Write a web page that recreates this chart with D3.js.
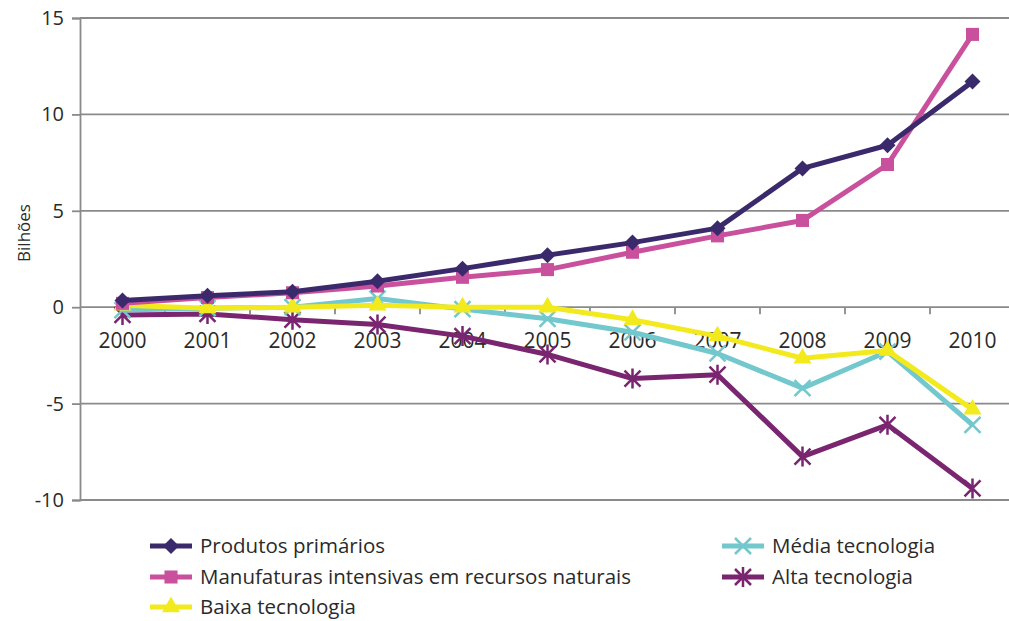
<!DOCTYPE html>
<html><head><meta charset="utf-8">
<script src="https://cdn.jsdelivr.net/npm/d3@7"></script>
<style>
html,body{margin:0;padding:0;background:#fff;}
text{font-family:"Open Sans","DejaVu Sans",sans-serif;fill:#2a2a2a;}
</style></head>
<body>
<svg id="chart" width="1009" height="621"></svg>
<script>
const years = ["2000","2001","2002","2003","2004","2005","2006","2007","2008","2009","2010"];
const yTicks = [-10,-5,0,5,10,15];
const seriesNames = ["Produtos primários","Manufaturas intensivas em recursos naturais","Baixa tecnologia","Média tecnologia","Alta tecnologia"];
const seriesColors = ["#3b2a6b","#c8509c","#f2ea1c","#72c8cc","#7a2570"];
const seriesMarkers = ["diamond","square","triangle","x","star"];
const produtosPrimarios = [0.35,0.6,0.8,1.35,2.0,2.7,3.35,4.1,7.2,8.4,11.7];
const manufaturas = [0.2,0.5,0.75,1.1,1.55,1.95,2.85,3.7,4.5,7.4,14.15];
const baixaTec = [0.1,-0.05,0.0,0.1,0.0,0.0,-0.65,-1.5,-2.65,-2.25,-5.3];
const mediaTec = [-0.15,-0.05,0.0,0.45,-0.1,-0.6,-1.3,-2.4,-4.2,-2.3,-6.1];
const altaTec = [-0.4,-0.35,-0.65,-0.9,-1.5,-2.45,-3.7,-3.5,-7.75,-6.1,-9.4];
const seriesValues = [produtosPrimarios,manufaturas,baixaTec,mediaTec,altaTec];

(function(){
const svg = d3.select("#chart");
const mLeft = 80, mRight = 1015, mTop = 18, mBottom = 500;
const x = d3.scaleBand().domain(years).range([mLeft,mRight]);
const y = d3.scaleLinear().domain([-10,15]).range([mBottom,mTop]);

// gridlines
svg.append("g").selectAll("line").data(yTicks).join("line")
  .attr("x1",mLeft).attr("x2",1009).attr("y1",d=>y(d)).attr("y2",d=>y(d))
  .attr("stroke","#8a8a8a").attr("stroke-width",1.8);

// y axis
const yAxis = svg.append("g").attr("transform",`translate(${mLeft},0)`)
  .call(d3.axisLeft(y).tickValues(yTicks).tickSize(8).tickPadding(8).tickFormat(d=>String(d)));
yAxis.select(".domain").attr("stroke","#8a8a8a").attr("stroke-width",1.8);
yAxis.selectAll(".tick line").attr("stroke","#8a8a8a").attr("stroke-width",1.8);
yAxis.selectAll(".tick text").attr("font-size",20).style("font-family","'Open Sans','DejaVu Sans',sans-serif").attr("fill","#2a2a2a");

// x axis on zero line: ticks at band boundaries
const boundaries = years.slice(1).map(yr => x(yr));
svg.append("g").selectAll("line").data(boundaries).join("line")
  .attr("x1",d=>d).attr("x2",d=>d).attr("y1",y(0)).attr("y2",y(0)+7)
  .attr("stroke","#8a8a8a").attr("stroke-width",1.8);
svg.append("g").selectAll("text").data(years).join("text")
  .attr("x",d=>x(d)+x.bandwidth()/2).attr("y",y(0)+41)
  .attr("text-anchor","middle").attr("font-size",21).text(d=>d);

// y title
svg.append("text").attr("transform",`translate(25,233) rotate(-90)`)
  .attr("text-anchor","middle").attr("dominant-baseline","middle").attr("font-size",17).text("Bilhões");

function markerPath(type){
  switch(type){
    case "diamond": return "M0,-8L8,0L0,8L-8,0Z";
    case "square": return d3.symbol(d3.symbolSquare, 170)();
    case "triangle": return d3.symbol(d3.symbolTriangle, 140)();
    case "x": return "M-8,-8L8,8M-8,8L8,-8";
    case "star": return "M-8,-8L8,8M-8,8L8,-8M0,-10L0,10";
  }
}
function drawMarker(g, type, color){
  const p = g.append("path").attr("d", markerPath(type));
  if(type==="x"||type==="star") p.attr("fill","none").attr("stroke",color).attr("stroke-width",2.5);
  else p.attr("fill",color);
}

const line = d3.line().x((d,i)=>x(years[i])+x.bandwidth()/2).y(d=>y(d));
const order = [4,3,2,1,0];
order.forEach(si=>{
  const g = svg.append("g");
  g.append("path").datum(seriesValues[si]).attr("d",line)
    .attr("fill","none").attr("stroke",seriesColors[si]).attr("stroke-width",5).attr("stroke-linejoin","round");
  seriesValues[si].forEach((v,i)=>{
    const mg = g.append("g").attr("transform",`translate(${x(years[i])+x.bandwidth()/2},${y(v)})`);
    drawMarker(mg, seriesMarkers[si], seriesColors[si]);
  });
});

// legend
const legendPos = [[150,546],[150,577],[150,607],[722,546],[722,577]];
seriesNames.forEach((name,si)=>{
  const [lx,ly] = legendPos[si];
  const g = svg.append("g");
  g.append("line").attr("x1",lx).attr("x2",lx+42).attr("y1",ly).attr("y2",ly)
    .attr("stroke",seriesColors[si]).attr("stroke-width",5);
  const mg = g.append("g").attr("transform",`translate(${lx+21},${ly})`);
  drawMarker(mg, seriesMarkers[si], seriesColors[si]);
  g.append("text").attr("x",lx+50).attr("y",ly+7).attr("font-size",20.5).text(name);
});
})();
</script>
</body></html>
